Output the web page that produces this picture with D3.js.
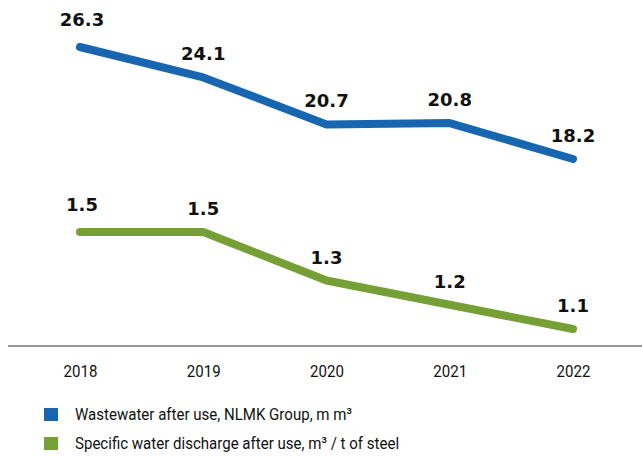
<!DOCTYPE html>
<html><head><meta charset="utf-8">
<script src="https://cdn.jsdelivr.net/npm/d3@7"></script>
<style>
html,body{margin:0;padding:0;background:#fff;}
svg{display:block;}
</style></head>
<body><svg id="chart" width="642" height="456"></svg>
<script>
const years = ["2018","2019","2020","2021","2022"];
const wastewater = [26.3, 24.1, 20.7, 20.8, 18.2];
const specific = [1.5, 1.5, 1.3, 1.2, 1.1];
const wastewaterLabels = ["26.3","24.1","20.7","20.8","18.2"];
const specificLabels = ["1.5","1.5","1.3","1.2","1.1"];
const seriesNames = ["Wastewater after use, NLMK Group, m m³", "Specific water discharge after use, m³ / t of steel"];
const colors = ["#1866b0", "#76a036"];

const svg = d3.select("#chart");
const x = d3.scalePoint().domain(years).range([80, 573]);
const yBlue = d3.scaleLinear().domain([18.2, 26.3]).range([159, 47]);
const yGreen = d3.scaleLinear().domain([1.1, 1.5]).range([329, 232]);

const labelFont = "'DejaVu Sans', sans-serif";
const narrowFont = "Roboto, sans-serif";
const squeeze = 0.885;

function drawSeries(vals, labels, y, color) {
  const line = d3.line().x((d,i)=>x(years[i])).y(d=>y(d));
  svg.append("path").datum(vals).attr("d", line)
    .attr("fill","none").attr("stroke",color).attr("stroke-width",8)
    .attr("stroke-linecap","round").attr("stroke-linejoin","round");
  svg.selectAll(null).data(vals).enter().append("text")
    .attr("x",(d,i)=>x(years[i]) + (i===0?2:0))
    .attr("y",(d,i)=>y(d) - (i===0?21:17))
    .attr("text-anchor","middle")
    .attr("font-family",labelFont).attr("font-weight","bold").attr("font-size",18)
    .attr("fill","#111")
    .text((d,i)=>labels[i]);
}
drawSeries(wastewater, wastewaterLabels, yBlue, colors[0]);
drawSeries(specific, specificLabels, yGreen, colors[1]);

// baseline axis
const axis = d3.axisBottom(x).tickSize(0).tickPadding(19);
const ag = svg.append("g").attr("transform","translate(0,346)").call(axis);
ag.select(".domain").remove();
ag.append("line").attr("x1",8).attr("x2",642).attr("y1",0).attr("y2",0)
  .attr("stroke","#777").attr("stroke-width",1.5);
ag.selectAll(".tick text").attr("font-family",narrowFont).attr("font-size",17)
  .attr("fill","#111").attr("transform",`scale(${squeeze},1)`);

// legend
const leg = svg.append("g");
seriesNames.forEach((n,i)=>{
  const yy = 408 + i*29;
  leg.append("rect").attr("x",44).attr("y",yy).attr("width",14).attr("height",13).attr("fill",colors[i]);
  leg.append("text").attr("transform",`translate(75,${yy+12}) scale(${squeeze},1)`)
    .attr("font-family",narrowFont)
    .attr("font-size",17).attr("fill","#111").text(n);
});
</script></body></html>
